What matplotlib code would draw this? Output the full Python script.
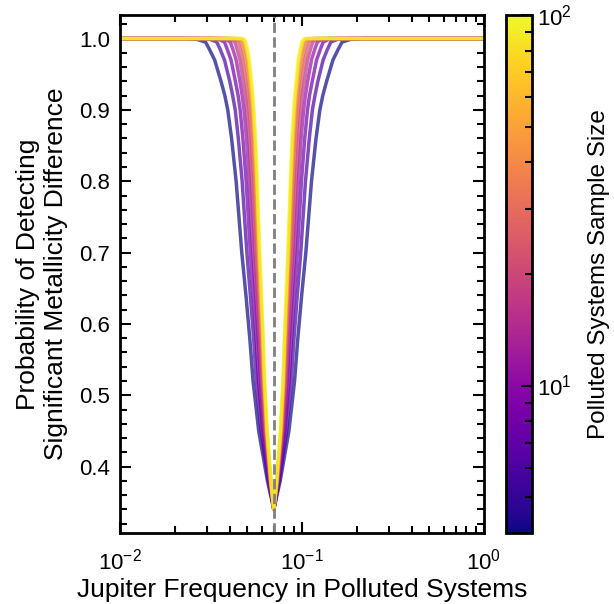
import numpy as np
import matplotlib
matplotlib.use("Agg")
import matplotlib.pyplot as plt
from matplotlib.colors import LogNorm
from matplotlib.ticker import AutoMinorLocator

plt.rcParams["font.family"] = ["Liberation Sans", "DejaVu Sans"]
plt.rcParams["mathtext.fontset"] = "custom"
plt.rcParams["mathtext.rm"] = "Liberation Sans"

# observed Jupiter frequency (dashed line)
f_true = 0.07

# polluted systems sample sizes (one curve each)
sample_sizes = [4, 6, 8, 11, 16, 23, 32, 45, 67, 100]

# detection probability levels at which each curve's half-width was read
prob_levels = [0.34, 0.38, 0.45, 0.52, 0.58, 0.64, 0.70, 0.80,
               0.86, 0.90, 0.92, 0.94, 0.97, 0.985, 0.995, 0.999, 1.0]

# half-width of each dip around f_true, in dex
half_width_dex = [
    [0, 0.035, 0.083, 0.114, 0.132, 0.153, 0.176, 0.207,
     0.232, 0.253, 0.269, 0.290, 0.325, 0.354, 0.375, 0.424, 0.497],
    [0, 0.030, 0.070, 0.096, 0.111, 0.129, 0.148, 0.174,
     0.195, 0.212, 0.226, 0.242, 0.271, 0.295, 0.313, 0.351, 0.408],
    [0, 0.026, 0.061, 0.084, 0.097, 0.112, 0.129, 0.152,
     0.170, 0.185, 0.196, 0.211, 0.235, 0.256, 0.271, 0.302, 0.348],
    [0, 0.023, 0.054, 0.074, 0.086, 0.100, 0.115, 0.135,
     0.150, 0.164, 0.174, 0.186, 0.207, 0.225, 0.239, 0.265, 0.301],
    [0, 0.021, 0.049, 0.067, 0.078, 0.090, 0.104, 0.122,
     0.136, 0.148, 0.156, 0.168, 0.186, 0.202, 0.214, 0.235, 0.266],
    [0, 0.019, 0.045, 0.062, 0.072, 0.083, 0.095, 0.112,
     0.124, 0.135, 0.143, 0.153, 0.170, 0.183, 0.195, 0.213, 0.238],
    [0, 0.018, 0.042, 0.057, 0.067, 0.077, 0.088, 0.104,
     0.115, 0.126, 0.132, 0.141, 0.156, 0.169, 0.179, 0.194, 0.215],
    [0, 0.017, 0.039, 0.054, 0.063, 0.073, 0.083, 0.098,
     0.108, 0.118, 0.124, 0.133, 0.146, 0.158, 0.167, 0.180, 0.197],
    [0, 0.016, 0.038, 0.052, 0.060, 0.070, 0.080, 0.094,
     0.104, 0.113, 0.119, 0.127, 0.139, 0.150, 0.159, 0.170, 0.184],
    [0, 0.015, 0.036, 0.050, 0.058, 0.067, 0.077, 0.091,
     0.100, 0.109, 0.115, 0.122, 0.134, 0.144, 0.153, 0.162, 0.173],
]

x_min, x_max = 1e-2, 1e0

fig = plt.figure(figsize=(6.14, 6.04), dpi=100)
ax = fig.add_axes([120 / 614, 71 / 604, 364 / 614, 518 / 604])
cax = fig.add_axes([506 / 614, 71 / 604, 26 / 614, 518 / 604])

cmap = plt.get_cmap("plasma")
norm = LogNorm(vmin=min(sample_sizes), vmax=max(sample_sizes))

levels = np.array(prob_levels)
for n, hw in zip(sample_sizes, half_width_dex):
    hw = np.array(hw)
    x_left = f_true * 10 ** (-hw[::-1])
    x_right = f_true * 10 ** hw[1:]
    x = np.concatenate([[x_min], x_left, x_right, [x_max]])
    y = np.concatenate([[1.0], levels[::-1], levels[1:], [1.0]])
    ax.plot(x, y, color=cmap(norm(n)), lw=2.5, alpha=0.7)

ax.axvline(f_true, color="gray", ls="--", lw=2)

ax.set_xscale("log")
ax.set_xlim(x_min, x_max)
ax.yaxis.set_minor_locator(AutoMinorLocator(5))
ax.tick_params(which="both", direction="in", top=True, right=True,
               labelsize=16, width=1.5)
ax.tick_params(which="major", length=8)
ax.tick_params(which="minor", length=5)
ax.tick_params(axis="y", which="major", pad=7)
ax.tick_params(axis="x", which="major", pad=11)
for s in ax.spines.values():
    s.set_linewidth(2)

ax.set_xlabel("Jupiter Frequency in Polluted Systems", fontsize=19, labelpad=3)
ax.set_ylabel("Probability of Detecting\nSignificant Metallicity Difference",
              fontsize=19, labelpad=8)

sm = plt.cm.ScalarMappable(norm=norm, cmap=cmap)
cbar = fig.colorbar(sm, cax=cax)
cbar.outline.set_linewidth(2)
cbar.ax.tick_params(which="both", direction="in", labelsize=16, width=1.5)
cbar.ax.tick_params(which="major", length=8)
cbar.ax.tick_params(which="minor", length=5)
cbar.set_label("Polluted Systems Sample Size", fontsize=17.5, labelpad=12)

fig.savefig("out.png", dpi=100)
